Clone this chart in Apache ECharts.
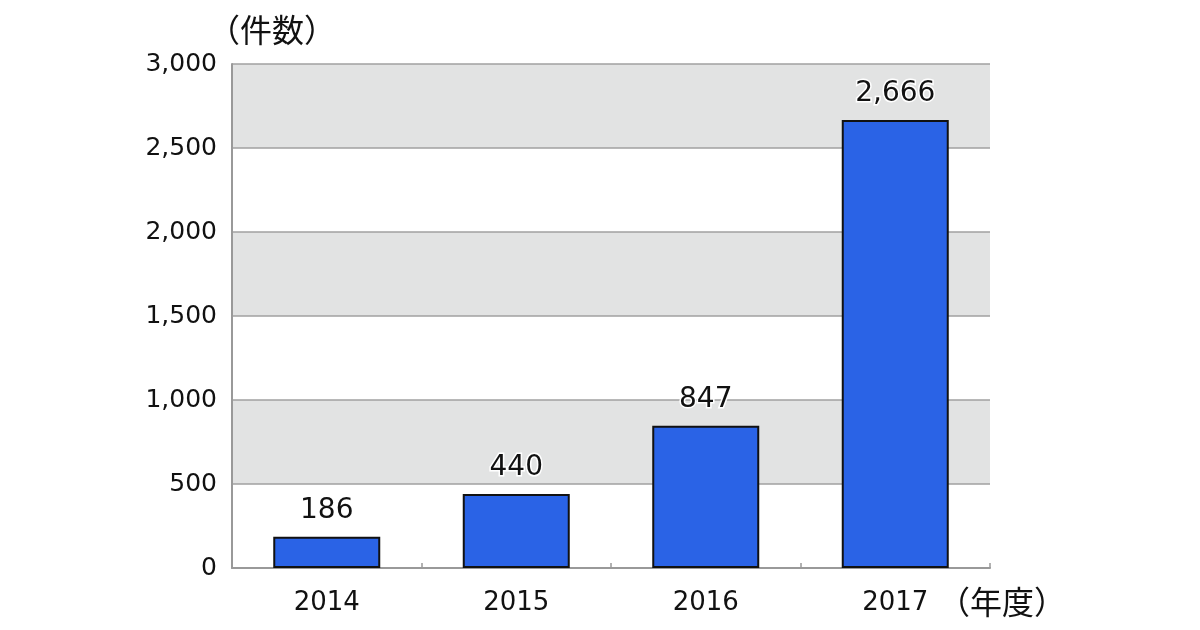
<!DOCTYPE html>
<html>
<head>
<meta charset="utf-8">
<script src="https://cdn.jsdelivr.net/npm/echarts@6/dist/echarts.min.js"></script>
<style>html,body{margin:0;padding:0;background:#fff;}#c{width:1200px;height:630px;}</style>
</head>
<body>
<div id="c"></div>
<script>
const categories = ['2014', '2015', '2016', '2017'];
const counts = [186, 440, 847, 2666];
const yTicks = [0, 500, 1000, 1500, 2000, 2500, 3000];

const FONT = '"DejaVu Sans", "Noto Sans CJK JP", sans-serif';
const CJK = '"Noto Sans CJK JP", sans-serif';
const fmt = v => Number(v).toLocaleString('en-US');

const chart = echarts.init(document.getElementById('c'));
chart.setOption({
  backgroundColor: '#ffffff',
  animation: false,
  grid: { left: 232, right: 210, top: 64, bottom: 62, containLabel: false },
  xAxis: {
    type: 'category',
    data: categories,
    name: '（年度）',
    nameLocation: 'end',
    nameGap: -52,
    nameTextStyle: { fontFamily: CJK, fontSize: 32, color: '#111111', verticalAlign: 'top', align: 'left', padding: [18, 0, 0, 0] },
    axisLine: { show: true, lineStyle: { color: '#999999', width: 2 } },
    axisTick: { show: true, inside: true, length: 5, lineStyle: { color: '#999999', width: 1.5 } },
    axisLabel: { fontFamily: FONT, fontSize: 26, color: '#111111', margin: 22 },
    splitLine: { show: false }
  },
  yAxis: {
    type: 'value',
    min: yTicks[0],
    max: yTicks[yTicks.length - 1],
    interval: 500,
    name: '（件数）',
    nameLocation: 'end',
    nameGap: 34,
    nameTextStyle: { fontFamily: CJK, fontSize: 32, color: '#111111', align: 'left', verticalAlign: 'middle', padding: [0, 0, 0, -24] },
    axisLine: { show: true, lineStyle: { color: '#999999', width: 2 } },
    axisTick: { show: false },
    axisLabel: { fontFamily: FONT, fontSize: 25, color: '#111111', margin: 15, formatter: fmt },
    splitLine: { show: true, lineStyle: { color: '#a0a0a0', width: 1.5 } },
    splitArea: { show: true, areaStyle: { color: ['#ffffff', '#e2e3e3'] } }
  },
  series: [{
    type: 'bar',
    data: counts,
    barWidth: 107,
    itemStyle: { color: '#2a63e6', borderColor: '#111111', borderWidth: 2 },
    label: {
      show: true,
      position: 'top',
      distance: 12,
      fontFamily: FONT,
      fontSize: 28,
      color: '#111111',
      textBorderColor: '#ffffff',
      textBorderWidth: 3,
      formatter: p => fmt(p.value)
    }
  }]
});
</script>
</body>
</html>
